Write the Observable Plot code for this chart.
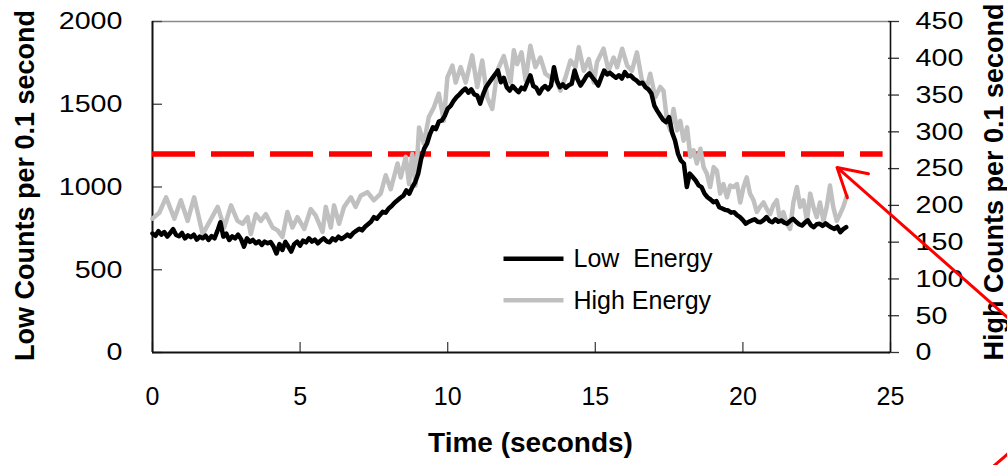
<!DOCTYPE html>
<html>
<head>
<meta charset="utf-8">
<style>
  html, body { margin: 0; padding: 0; background: #ffffff; }
  #chart svg { display: block; }
</style>
<script src="https://cdn.jsdelivr.net/npm/d3@7"></script>
<script src="https://cdn.jsdelivr.net/npm/@observablehq/plot@0.6"></script>
</head>
<body>
<div id="chart"></div>
<script>
// ---------- data ----------
const xTicks = [0, 5, 10, 15, 20, 25];
const leftTicks = [0, 500, 1000, 1500, 2000];
const rightTicks = [0, 50, 100, 150, 200, 250, 300, 350, 400, 450];

const xTitle = "Time (seconds)";
const leftTitle = "Low Counts per 0.1 second";
const rightTitle = "High Counts per 0.1 second";
const legendLabels = ["Low\u00a0\u00a0Energy", "High Energy"];

// Low energy counts, sampled every 0.1 s starting at 0 s (left axis)
const lowStart = 0;
const lowStep = 0.1;
const lowCounts = [
  719,705,733,712,728,700,722,745,710,702,
  722,690,708,697,712,682,700,690,706,680,
  703,690,735,787,700,718,680,702,690,712,
  685,640,690,668,680,660,672,650,670,660,
  668,640,598,655,620,668,640,610,655,670,
  646,676,665,690,670,682,660,677,690,672,
  666,690,678,700,686,697,712,700,722,735,
  747,738,760,775,790,818,808,830,850,845,
  870,885,905,920,935,948,979,960,999,1030,
  1080,1170,1230,1263,1320,1361,1350,1395,1402,1430,
  1474,1490,1520,1543,1560,1580,1595,1570,1590,1560,
  1553,1504,1560,1603,1630,1655,1680,1704,1633,1660,
  1603,1583,1610,1590,1573,1600,1590,1633,1674,1610,
  1600,1565,1595,1610,1590,1613,1724,1640,1603,1620,
  1600,1615,1624,1704,1650,1613,1640,1670,1686,1662,
  1640,1613,1660,1704,1680,1690,1674,1660,1675,1655,
  1694,1670,1674,1655,1643,1625,1630,1603,1590,1565,
  1492,1460,1432,1405,1392,1422,1330,1281,1202,1160,
  1142,1000,1081,1060,1039,1010,999,960,938,925,
  908,915,878,870,862,858,845,848,830,818,
  800,778,790,798,805,790,787,800,818,795,
  787,805,790,798,785,778,795,808,790,775,
  767,785,798,770,757,775,778,765,780,767,
  755,747,760,727,745,757
];

// High energy counts (right axis)
const highTime = [
  0.00,0.23,0.46,0.74,0.96,1.19,1.41,1.70,1.92,2.21,
  2.43,2.66,2.88,3.05,3.22,3.33,3.50,3.67,3.84,4.07,
  4.24,4.40,4.57,4.74,4.91,5.14,5.36,5.53,5.76,5.87,
  6.04,6.15,6.32,6.49,6.72,6.88,7.05,7.28,7.50,7.73,
  7.90,8.07,8.30,8.41,8.58,8.69,8.80,8.91,9.03,9.19,
  9.36,9.53,9.70,9.87,9.99,10.16,10.27,10.44,10.61,10.83,
  11.00,11.17,11.34,11.51,11.68,11.90,12.13,12.24,12.35,12.50,
  12.64,12.80,12.97,13.14,13.31,13.48,13.65,13.82,13.99,14.16,
  14.33,14.44,14.61,14.78,14.95,15.06,15.28,15.45,15.62,15.74,
  15.91,16.08,16.24,16.41,16.58,16.75,16.86,17.03,17.20,17.31,
  17.43,17.54,17.65,17.77,17.88,17.99,18.11,18.22,18.33,18.44,
  18.56,18.67,18.78,18.89,19.01,19.12,19.23,19.34,19.46,19.57,
  19.68,19.80,19.91,20.02,20.13,20.24,20.36,20.47,20.58,20.70,
  20.81,20.92,21.03,21.15,21.26,21.37,21.49,21.60,21.71,21.83,
  21.94,22.05,22.17,22.28,22.39,22.50,22.61,22.73,22.84,22.95,
  23.06,23.18,23.29,23.40,23.52
];
const highCounts = [
  182,190,211,182,207,179,211,161,177,198,
  170,200,179,175,184,161,188,179,188,170,
  166,157,191,170,184,168,195,186,164,198,
  170,200,175,198,211,198,213,218,207,216,
  241,222,257,238,266,229,270,227,306,284,
  320,333,352,315,374,390,367,388,367,404,
  361,397,347,331,383,403,367,411,392,408,
  370,417,388,401,379,374,372,356,374,397,
  388,415,383,399,367,395,413,383,401,388,
  413,390,383,408,370,361,379,347,361,356,
  315,302,331,302,315,288,306,266,275,257,
  277,252,243,225,252,247,216,229,211,227,
  225,229,204,225,238,216,207,191,198,204,
  195,188,200,207,179,191,175,168,204,225,
  198,207,179,216,198,184,204,179,198,227,
  198,179,188,198,213
];

// threshold (left-axis units) and its time span
const thresholdValue = [1200];
const thresholdSpan = [0, 24.75];

// annotation arrow (time, left-axis units): tail -> tip
const arrowTail = [30.06, 40];
const arrowTip = [23.19, 1118];
// partial red outline at lower right corner
const arcTime = [28.47, 28.70, 28.97];
const arcValue = [-690, -655, -612];

// ---------- build ----------
const leftMax = leftTicks[leftTicks.length - 1];
const rightMax = rightTicks[rightTicks.length - 1];
const toLeft = leftMax / rightMax;

const lowData = lowCounts.map((v, i) => ({t: lowStart + i * lowStep, v}));
const highData = highTime.map((t, i) => ({t, v: highCounts[i]}));
const arrowData = [{x1: arrowTail[0], y1: arrowTail[1], x2: arrowTip[0], y2: arrowTip[1]}];
const arcData = arcTime.map((t, i) => ({t, v: arcValue[i]}));

const W = 1007, H = 465;
const M = {top: 21, right: 117, bottom: 113, left: 152};
const PW = W - M.left - M.right;
const PH = H - M.top - M.bottom;
const FONT = "'Liberation Sans', Arial, Helvetica, sans-serif";

const chart = Plot.plot({
  width: W,
  height: H,
  marginTop: M.top, marginRight: M.right, marginBottom: M.bottom, marginLeft: M.left,
  style: {fontFamily: FONT, background: "#ffffff", color: "#000000", overflow: "visible"},
  x: {domain: [xTicks[0], xTicks[xTicks.length - 1]], axis: null},
  y: {domain: [leftTicks[0], leftMax], axis: null},
  marks: [
    // frame lines
    Plot.ruleY([leftMax], {stroke: "#8a8a8a", strokeWidth: 1.5}),
    Plot.tickY(leftTicks, {y: d => d, stroke: "#444", strokeWidth: 1.3, insetRight: PW - 10}),
    Plot.tickX(xTicks, {x: d => d, stroke: "#444", strokeWidth: 1.3, insetTop: PH - 10}),
    Plot.tickY(rightTicks.map(v => v * toLeft), {y: d => d, stroke: "#333", strokeWidth: 1.3, insetLeft: PW - 11, dx: 9}),
    Plot.ruleX([xTicks[0]], {stroke: "#111", strokeWidth: 2}),
    Plot.ruleX([xTicks[xTicks.length - 1]], {stroke: "#111", strokeWidth: 1.6}),
    Plot.ruleY([0], {stroke: "#111", strokeWidth: 2}),

    // axes labels
    Plot.axisY(leftTicks, {anchor: "left", tickSize: 0, tickPadding: 30, fontSize: 24.5, label: null, tickFormat: d => String(d)}),
    Plot.axisY(rightTicks.map(v => v * toLeft), {anchor: "right", tickSize: 0, tickPadding: 25, fontSize: 24.5, label: null, tickFormat: d => String(Math.round(d / toLeft))}),
    Plot.axisX(xTicks, {anchor: "bottom", tickSize: 0, tickPadding: 35, fontSize: 25, label: null, tickFormat: d => String(d)}),

    // axis titles
    Plot.text([xTitle], {text: d => d, frameAnchor: "bottom", dx: 9, dy: 90.5, fontSize: 28, fontWeight: "bold", textAnchor: "middle", lineAnchor: "middle"}),
    Plot.text([leftTitle], {text: d => d, frameAnchor: "left", rotate: -90, dx: -127, dy: -1.5, fontSize: 27, fontWeight: "bold", textAnchor: "middle", lineAnchor: "middle"}),
    Plot.text([rightTitle], {text: d => d, frameAnchor: "right", rotate: -90, dx: 103.5, dy: -5, fontSize: 27, fontWeight: "bold", textAnchor: "middle", lineAnchor: "middle"}),

    // threshold
    Plot.ruleY(thresholdValue, {y: d => d, x1: thresholdSpan[0], x2: thresholdSpan[1], stroke: "#ff0000", strokeWidth: 5.5, strokeDasharray: "43,16"}),

    // series
    Plot.line(highData, {x: "t", y: d => d.v * toLeft, stroke: "#c0c0c0", strokeWidth: 4.5, strokeLinejoin: "round", strokeLinecap: "round"}),
    Plot.line(lowData, {x: "t", y: "v", stroke: "#000000", strokeWidth: 4.5, strokeLinejoin: "round", strokeLinecap: "round"}),

    // legend
    Plot.frame({insetLeft: 503 - M.left, insetRight: (W - M.right) - 563, insetTop: 256 - M.top, insetBottom: (H - M.bottom) - 260.5, fill: "#000000", stroke: "none"}),
    Plot.frame({insetLeft: 503 - M.left, insetRight: (W - M.right) - 563, insetTop: 297.5 - M.top, insetBottom: (H - M.bottom) - 302, fill: "#c0c0c0", stroke: "none"}),
    Plot.text([legendLabels[0]], {text: d => d, frameAnchor: "top-left", dx: 421, dy: 237.5, fontSize: 25, textAnchor: "start", lineAnchor: "middle"}),
    Plot.text([legendLabels[1]], {text: d => d, frameAnchor: "top-left", dx: 421, dy: 279, fontSize: 25, textAnchor: "start", lineAnchor: "middle"}),

    // annotation
    Plot.arrow(arrowData, {x1: "x1", y1: "y1", x2: "x2", y2: "y2", stroke: "#ff0000", strokeWidth: 3, headLength: 16}),
    Plot.line(arcData, {x: "t", y: "v", stroke: "#ff0000", strokeWidth: 3, curve: "natural"})
  ]
});

// Stretch y tick labels horizontally like the original rendering
d3.select(chart).selectAll('g[aria-label="y-axis tick label"] text').each(function () {
  const el = d3.select(this);
  const tr = el.attr("transform");
  if (tr) el.attr("transform", tr + " scale(1.17,1)");
});

document.getElementById("chart").appendChild(chart);
</script>
</body>
</html>
